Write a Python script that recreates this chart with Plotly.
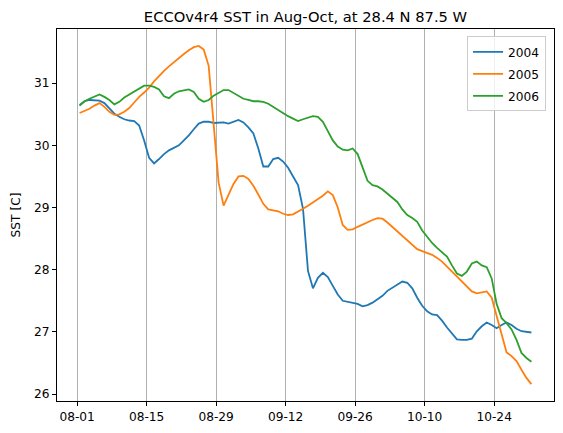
import pandas as pd
import plotly.graph_objects as go

# Daily SST values (deg C), 1 Aug .. 31 Oct
sst_2004 = [30.64, 30.71, 30.73, 30.73, 30.72, 30.68, 30.60, 30.51, 30.46, 30.42,
            30.40, 30.39, 30.32, 30.08, 29.80, 29.71, 29.78, 29.86, 29.92, 29.96,
            30.00, 30.08, 30.16, 30.26, 30.35, 30.38, 30.38, 30.36, 30.36, 30.37,
            30.35, 30.38, 30.41, 30.37, 30.29, 30.19, 29.95, 29.66, 29.66, 29.78,
            29.80, 29.74, 29.64, 29.50, 29.36, 28.98, 27.98, 27.70, 27.87, 27.95,
            27.88, 27.74, 27.60, 27.50, 27.48, 27.47, 27.45, 27.41, 27.43, 27.47,
            27.53, 27.58, 27.66, 27.71, 27.76, 27.81, 27.79, 27.70, 27.55, 27.42,
            27.33, 27.28, 27.27, 27.18, 27.07, 26.97, 26.88, 26.87, 26.87, 26.89,
            27.01, 27.09, 27.15, 27.11, 27.06, 27.11, 27.15, 27.11, 27.05, 27.01,
            27.00, 26.99]
sst_2005 = [30.52, 30.55, 30.59, 30.64, 30.68, 30.62, 30.54, 30.49, 30.50, 30.54,
            30.60, 30.69, 30.78, 30.85, 30.93, 31.03, 31.12, 31.20, 31.27, 31.34,
            31.40, 31.47, 31.53, 31.58, 31.60, 31.54, 31.28, 30.40, 29.40, 29.03,
            29.22, 29.38, 29.50, 29.51, 29.46, 29.35, 29.21, 29.06, 28.97, 28.95,
            28.94, 28.90, 28.88, 28.89, 28.93, 28.98, 29.03, 29.08, 29.14, 29.19,
            29.26, 29.20, 29.00, 28.72, 28.64, 28.65, 28.69, 28.73, 28.76, 28.80,
            28.83, 28.82, 28.76, 28.69, 28.61, 28.54, 28.47, 28.40, 28.33, 28.30,
            28.27, 28.24, 28.19, 28.13, 28.05, 27.97, 27.89, 27.80, 27.72, 27.65,
            27.62, 27.63, 27.65, 27.55, 27.25, 26.93, 26.67, 26.61, 26.53, 26.39,
            26.26, 26.16]
sst_2006 = [30.65, 30.71, 30.75, 30.79, 30.82, 30.78, 30.73, 30.66, 30.70, 30.77,
            30.82, 30.87, 30.92, 30.96, 30.96, 30.94, 30.90, 30.79, 30.76, 30.83,
            30.87, 30.89, 30.90, 30.86, 30.75, 30.70, 30.73, 30.80, 30.85, 30.89,
            30.89, 30.84, 30.79, 30.75, 30.73, 30.71, 30.71, 30.70, 30.67, 30.62,
            30.57, 30.51, 30.47, 30.43, 30.39, 30.42, 30.45, 30.47, 30.46, 30.38,
            30.23, 30.08, 29.98, 29.93, 29.92, 29.95, 29.86, 29.65, 29.43, 29.36,
            29.34, 29.29, 29.22, 29.16, 29.09, 28.97, 28.88, 28.83, 28.77, 28.63,
            28.53, 28.43, 28.35, 28.28, 28.21, 28.07, 27.94, 27.90, 27.97, 28.10,
            28.13, 28.07, 28.04, 27.86, 27.45, 27.22, 27.14, 27.04, 26.87, 26.66,
            26.58, 26.52]

series_names = ["2004", "2005", "2006"]
series_vals = [sst_2004, sst_2005, sst_2006]
colors = ["#1f77b4", "#ff7f0e", "#2ca02c"]

n = max(len(s) for s in series_vals)
dates = pd.date_range("2004-08-01 12:00", periods=n, freq="D")
tick_dates = pd.date_range("2004-08-01", "2004-10-24", freq="14D")
tick_text = [d.strftime("%m-%d") for d in tick_dates]

fig = go.Figure()
for name, vals, c in zip(series_names, series_vals, colors):
    fig.add_trace(go.Scatter(x=dates[:len(vals)], y=vals, mode="lines", name=name,
                             legendgroup=name,
                             line=dict(color=c, width=1.8)))

# matplotlib-like 5% margins
x0, x1 = dates[0], dates[-1]
span = x1 - x0
xr = [x0 - span * 0.05, x1 + span * 0.05]
allv = [v for s in series_vals for v in s]
ymin, ymax = min(allv), max(allv)
yr = [ymin - (ymax - ymin) * 0.05, ymax + (ymax - ymin) * 0.05]

font = "DejaVu Sans"
fig.update_layout(
    width=563, height=433,
    margin=dict(l=57, r=9, t=29, b=32),
    paper_bgcolor="white", plot_bgcolor="white",
    font=dict(family=font, size=12.2, color="black"),
    title=dict(text="ECCOv4r4 SST in Aug-Oct, at 28.4 N 87.5 W",
               font=dict(size=14.7, color="black", family=font),
               x=0.5, xref="paper", xanchor="center",
               y=1 - 17 / 433, yref="container", yanchor="middle"),
    showlegend=True,
    legend=dict(x=0.984, y=0.98, xanchor="right", yanchor="top",
                bgcolor="rgba(255,255,255,0.8)", bordercolor="#cccccc",
                borderwidth=1, tracegroupgap=3,
                font=dict(size=12.2, family=font)),
)
fig.update_xaxes(range=xr, tickvals=tick_dates, ticktext=tick_text,
                 showgrid=True, gridcolor="#b0b0b0", gridwidth=0.8,
                 showline=True, linecolor="black", linewidth=1, mirror=True,
                 ticks="outside", ticklen=4, tickcolor="black", zeroline=False)
fig.update_yaxes(range=yr, dtick=1, tick0=26, showgrid=False,
                 showline=True, linecolor="black", linewidth=1, mirror=True,
                 ticks="outside", ticklen=4, tickcolor="black", zeroline=False,
                 title=dict(text="SST [C]", standoff=10,
                            font=dict(size=12.2, family=font)))

fig.write_html("out.html")
